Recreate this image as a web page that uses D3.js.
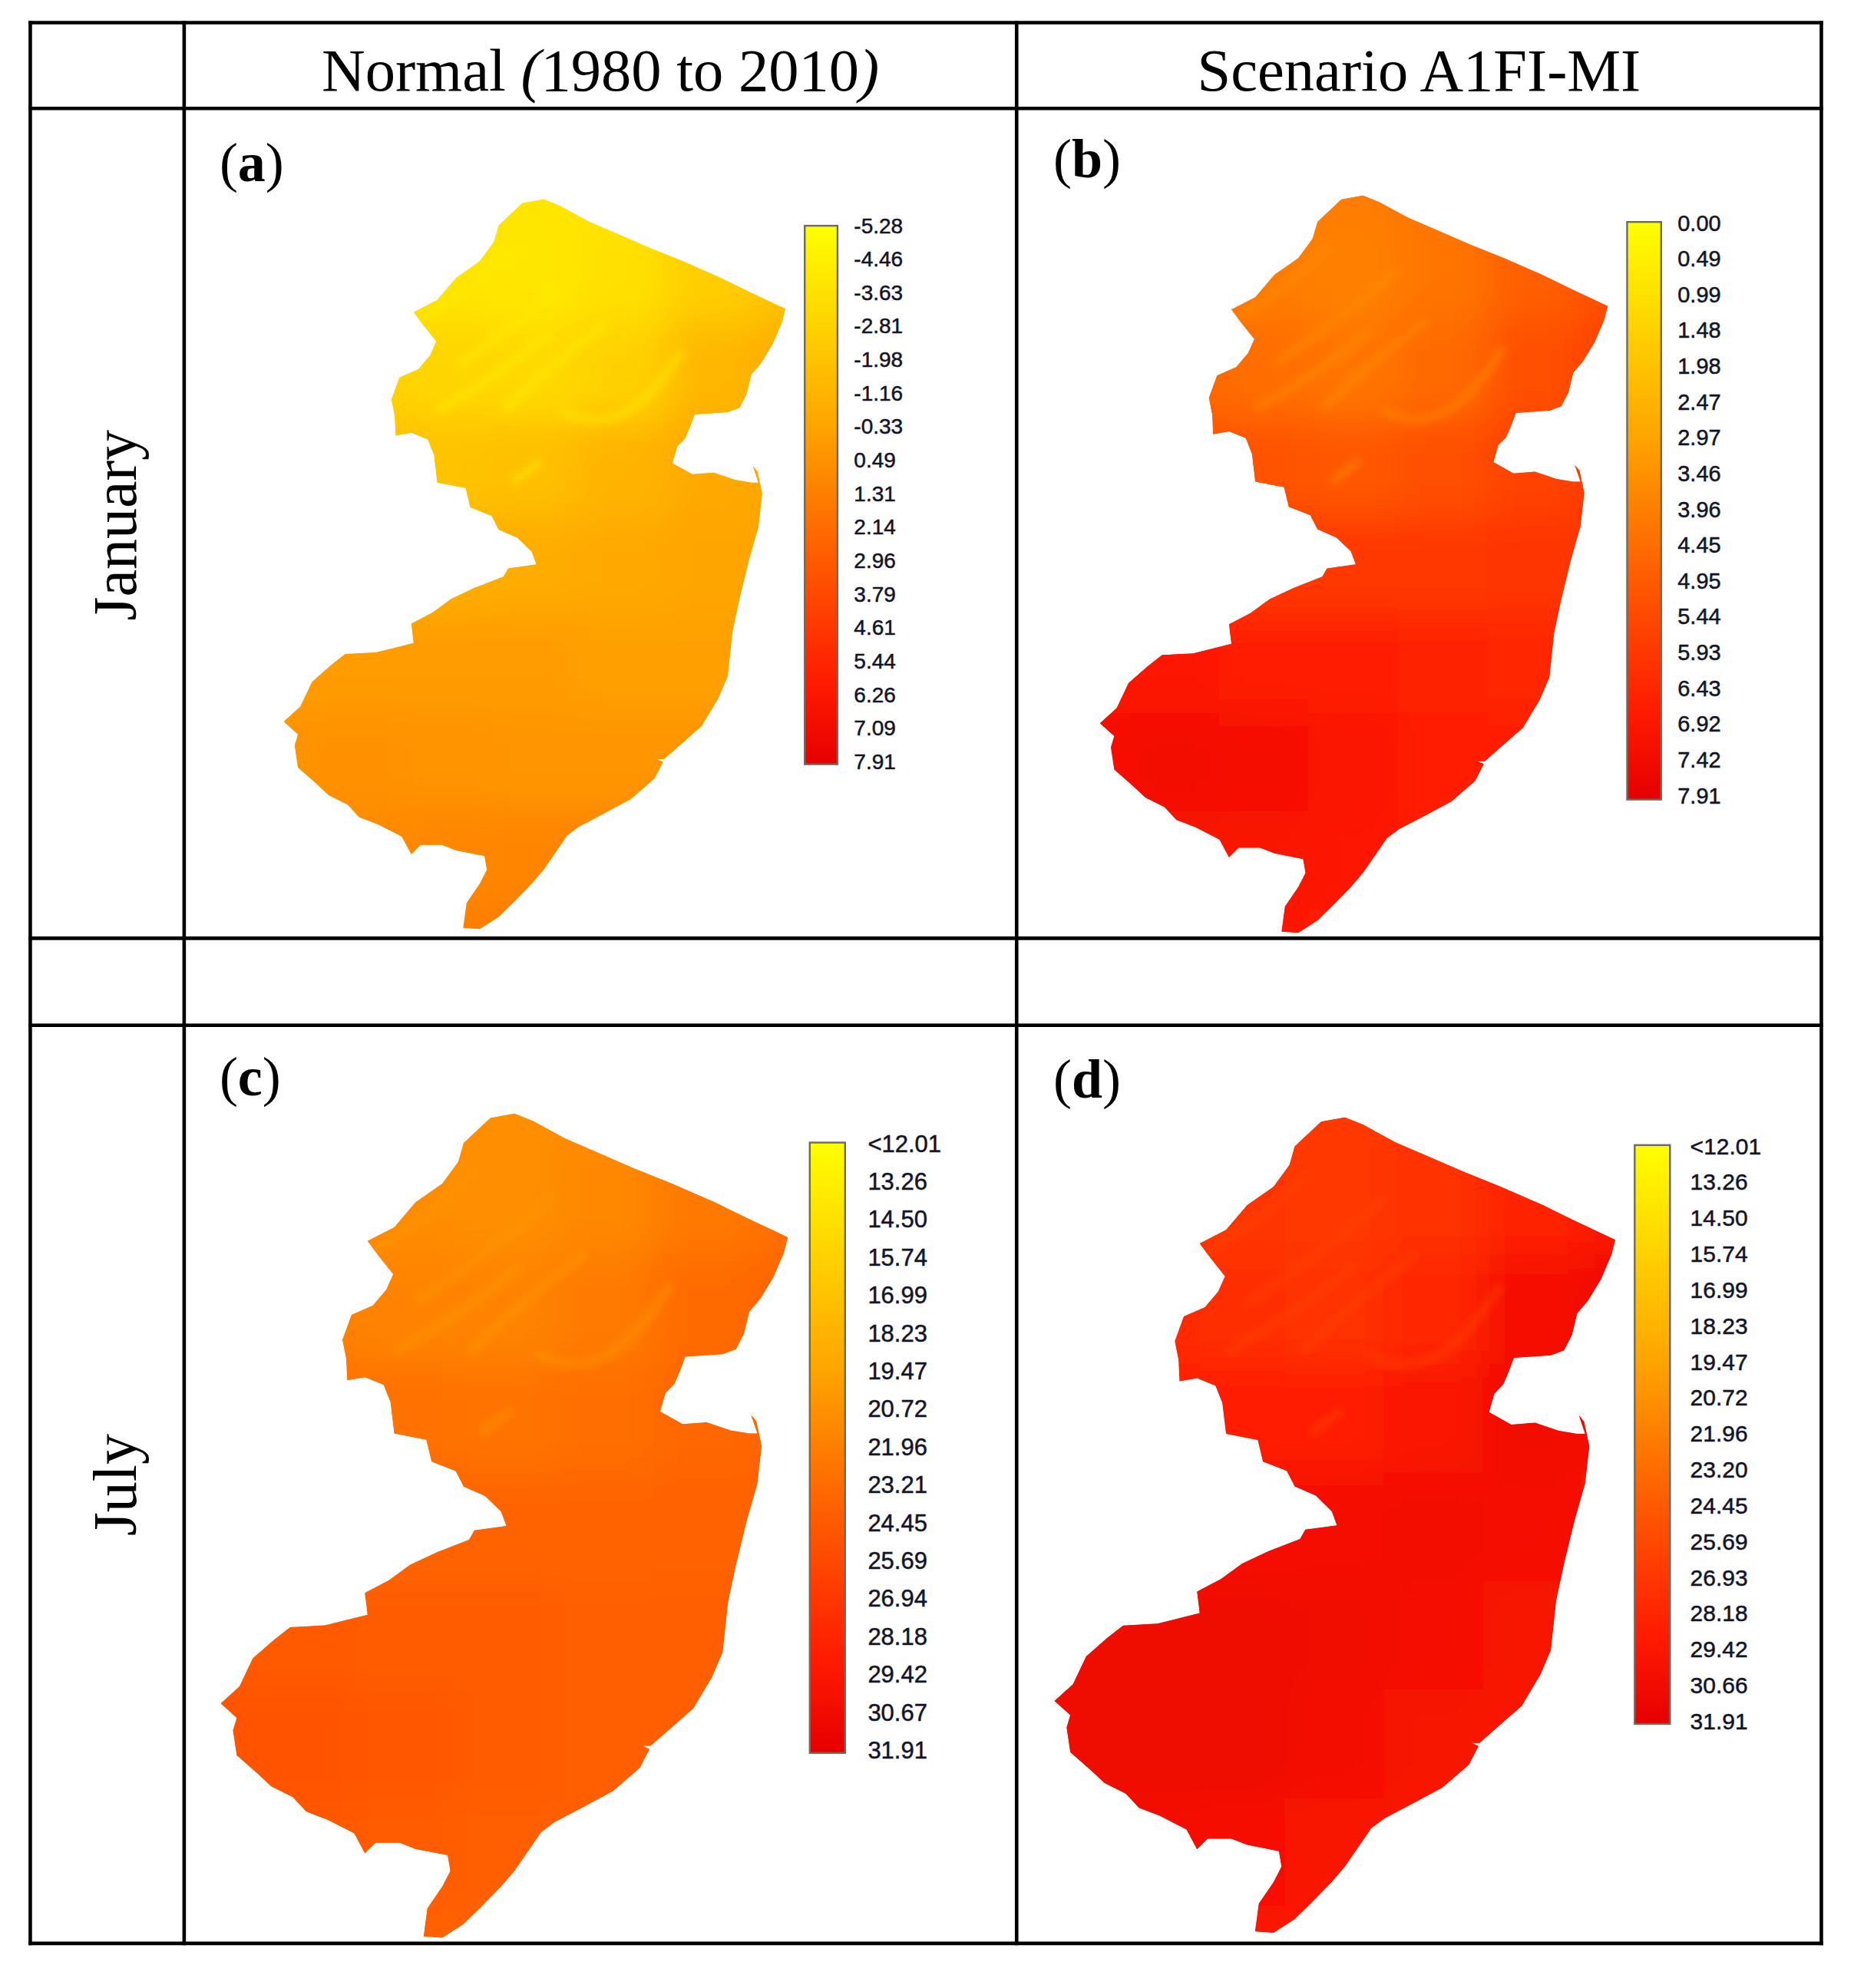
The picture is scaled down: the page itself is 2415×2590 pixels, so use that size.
<!DOCTYPE html>
<html><head><meta charset="utf-8">
<script src="https://cdnjs.cloudflare.com/ajax/libs/d3/7.8.5/d3.min.js"></script>
<style>html,body{margin:0;padding:0;background:#fff}svg{display:block}</style>
</head><body>
<svg id="chart" width="2415" height="2590"></svg>
<script>
// ---------- data ----------
const columnHeaders = ["Normal (1980 to 2010)", "Scenario A1FI-MI"];
const rowHeaders = ["January", "July"];
const panelLetters = ["a", "b", "c", "d"];

const ticksA = ["-5.28","-4.46","-3.63","-2.81","-1.98","-1.16","-0.33","0.49","1.31","2.14","2.96","3.79","4.61","5.44","6.26","7.09","7.91"];
const ticksB = ["0.00","0.49","0.99","1.48","1.98","2.47","2.97","3.46","3.96","4.45","4.95","5.44","5.93","6.43","6.92","7.42","7.91"];
const ticksC = ["<12.01","13.26","14.50","15.74","16.99","18.23","19.47","20.72","21.96","23.21","24.45","25.69","26.94","28.18","29.42","30.67","31.91"];
const ticksD = ["<12.01","13.26","14.50","15.74","16.99","18.23","19.47","20.72","21.96","23.20","24.45","25.69","26.93","28.18","29.42","30.66","31.91"];

// state outline, in map units
const outline = [[625,178],[660,190],[720,218],[780,240],[850,266],[920,290],[1000,320],[1060,345],[1137,376],[1130,400],[1110,440],[1085,475],[1065,495],[1055,530],[1040,555],[1015,563],[945,567],[935,590],[925,610],[908,625],[898,655],[940,675],[985,672],[1030,685],[1065,690],[1080,690],[1068,660],[1078,670],[1088,710],[1080,770],[1060,830],[1040,900],[1025,960],[1015,1040],[995,1080],[960,1130],[920,1160],[880,1190],[865,1190],[878,1195],[860,1225],[810,1262],[760,1285],[700,1312],[675,1328],[625,1390],[600,1415],[560,1450],[530,1475],[490,1497],[455,1495],[462,1450],[490,1415],[505,1390],[500,1365],[440,1355],[410,1345],[365,1345],[345,1362],[325,1330],[275,1308],[250,1300],[235,1295],[210,1272],[170,1255],[145,1235],[105,1205],[98,1165],[105,1145],[75,1122],[110,1095],[135,1050],[175,1020],[205,1000],[270,997],[350,980],[345,945],[390,925],[430,900],[480,880],[540,860],[550,845],[610,838],[600,815],[570,790],[530,775],[515,750],[470,735],[460,700],[400,690],[393,640],[380,612],[345,600],[312,605],[310,570],[303,540],[320,500],[360,485],[385,460],[398,435],[370,405],[350,382],[400,360],[440,320],[490,290],[520,255],[530,225],[580,185]];

// ridge streaks in the north of the state, in map units
const ridges = [
  [[365,395],[470,340],[560,265]],
  [[440,480],[560,410],[700,310]],
  [[400,560],[520,500],[640,420]],
  [[540,560],[640,480],[760,400]],
  [[660,560],[740,590],[840,550],[920,450]],
  [[560,690],[620,650]]
];

// temperature (deg C) estimated on a coarse grid, north to south, west to east
const tempA = [
 [-3.8,-3.8,-3.8,-3.9,-3.8,-3.2,-2.6],
 [-3.5,-3.5,-3.8,-4.0,-3.6,-2.6,-2.0],
 [-2.8,-2.8,-3.0,-3.2,-2.8,-1.4,-0.7],
 [-1.8,-1.8,-2.0,-1.8,-1.2,-0.6,-0.4],
 [-0.8,-0.8,-0.9,-0.8,-0.6,-0.4,-0.3],
 [0.0,0.0,0.0,0.0,-0.2,-0.2,-0.2],
 [0.4,0.5,0.4,0.3,0.3,0.3,0.3],
 [0.8,0.8,0.9,1.0,1.0,1.0,1.0],
 [1.3,1.3,1.4,1.4,1.3,1.2,1.2]];
const tempB = [
 [4.2,4.2,4.1,4.0,4.2,4.6,4.9],
 [4.2,4.2,4.0,3.9,4.2,4.8,5.2],
 [4.6,4.6,4.4,4.2,4.5,5.2,5.6],
 [5.2,5.2,5.1,5.0,5.2,5.6,5.8],
 [5.9,5.9,5.9,5.9,5.9,6.0,6.1],
 [6.8,6.8,6.7,6.6,6.5,6.4,6.4],
 [7.2,7.3,7.2,6.9,6.7,6.6,6.5],
 [7.1,7.1,7.0,6.8,6.6,6.5,6.4],
 [6.9,6.9,6.8,6.7,6.5,6.4,6.3]];
const tempC = [
 [21.0,21.0,20.9,20.8,21.0,21.6,22.2],
 [21.2,21.2,21.0,20.8,21.3,22.3,23.0],
 [21.8,21.8,21.6,21.6,22.2,23.2,23.6],
 [22.8,22.8,22.8,22.7,23.0,23.5,23.7],
 [23.7,23.7,23.7,23.7,23.7,23.8,23.8],
 [24.4,24.4,24.3,24.2,24.1,24.0,24.0],
 [24.9,24.9,24.6,24.3,24.1,24.0,23.9],
 [24.5,24.5,24.3,24.1,24.0,23.8,23.8],
 [23.8,23.8,23.8,23.8,23.7,23.7,23.7]];
const tempD = [
 [27.0,27.0,26.9,26.8,27.0,27.8,28.4],
 [27.4,27.4,27.0,26.8,27.2,28.5,29.5],
 [27.9,27.9,27.4,27.2,28.0,30.0,30.8],
 [28.8,28.8,28.6,28.6,29.5,30.6,30.4],
 [30.0,30.0,30.0,30.2,30.4,30.2,29.8],
 [30.8,30.8,30.8,30.6,30.2,29.8,29.6],
 [31.0,31.0,31.0,30.4,29.9,29.6,29.4],
 [30.2,30.2,30.0,29.6,29.4,29.3,29.3],
 [29.4,29.4,29.4,29.3,29.3,29.2,29.2]];
const ridgeTemp = [-4.3, 3.5, 20.2, 26.2];

// colour ramp of the legends, top to bottom
const rampStops = [0, 0.37, 0.6, 0.85, 1];
const rampColors = ["#ffff00", "#ffa500", "#ff6000", "#ff1a00", "#e60000"];

// ---------- layout ----------
const k = 1.643;                       // layout below measured at 1/k scale
const ruleX = [24, 146, 806, 1444].map(d => d * k);
const ruleY = [18, 86, 744, 813, 1541].map(d => d * k);
const panelLayout = [
 {id:"a", temp:tempA, ticks:ticksA, ridge:ridgeTemp[0], map:[225,623,158,738], bar:[638,664,179,606], lab:[677,179,604], fs:28, tag:[174,130]},
 {id:"b", temp:tempB, ticks:ticksB, ridge:ridgeTemp[1], map:[872,1275,155,741], bar:[1290,1317,176,634], lab:[1330,177,631], fs:29, tag:[835,127]},
 {id:"c", temp:tempC, ticks:ticksC, ridge:ridgeTemp[2], map:[175,625,883,1538], bar:[642,670,906,1390], lab:[688,907,1388], fs:31, tag:[174,855]},
 {id:"d", temp:tempD, ticks:ticksD, ridge:ridgeTemp[3], map:[836,1281,886,1534], bar:[1296,1324,908,1367], lab:[1340,909,1365], fs:30, tag:[835,857]}
];

const svg = d3.select("#chart");
const defs = svg.append("defs");
const blur = (id, s) => defs.append("filter").attr("id", id)
  .attr("filterUnits","userSpaceOnUse").attr("x",0).attr("y",0).attr("width",2415).attr("height",2590)
  .append("feGaussianBlur").attr("stdDeviation", s);
blur("smooth", 26);
blur("soft", 5);

const grad = defs.append("linearGradient").attr("id","ramp").attr("x1",0).attr("x2",0).attr("y1",0).attr("y2",1);
rampStops.forEach((s,i) => grad.append("stop").attr("offset",s).attr("stop-color",rampColors[i]));

const numeric = t => +String(t).replace("<","");
const gridCols = d3.range(7), gridRows = d3.range(9);

panelLayout.forEach(p => {
  const [mx0,mx1,my0,my1] = p.map.map(d => d * k);
  const x = d3.scaleLinear().domain([75,1138]).range([mx0,mx1]);
  const y = d3.scaleLinear().domain([178,1500]).range([my0,my1]);
  const tVal = d3.scaleLinear().domain([numeric(p.ticks[0]), numeric(p.ticks[16])]).range([0,1]);
  const ramp = d3.scaleLinear().domain(rampStops).range(rampColors).interpolate(d3.interpolateRgb);
  const color = v => ramp(tVal(v));
  const gx = d3.scaleBand().domain(gridCols).range([x(-50),x(1260)]);
  const gy = d3.scaleBand().domain(gridRows).range([y(50),y(1630)]);
  const line = d3.line().x(d => x(d[0])).y(d => y(d[1]));

  defs.append("clipPath").attr("id","clip-"+p.id).append("path").attr("d", line(outline)+"Z");

  const g = svg.append("g").attr("clip-path",`url(#clip-${p.id})`);
  // flat base so the clipped edge is never pale
  g.append("path").attr("d", line(outline)+"Z").attr("fill", color(p.temp[4][3]));
  g.append("g").attr("filter","url(#smooth)")
    .selectAll("rect").data(p.temp.flatMap((r,i) => r.map((v,j) => ({i,j,v})))).join("rect")
    .attr("x", d => gx(d.j)).attr("y", d => gy(d.i))
    .attr("width", gx.bandwidth()+1).attr("height", gy.bandwidth()+1)
    .attr("fill", d => color(d.v));
  g.append("g").attr("filter","url(#soft)")
    .selectAll("path").data(ridges).join("path")
    .attr("d", d3.line().curve(d3.curveBasis).x(d => x(d[0])).y(d => y(d[1])))
    .attr("fill","none").attr("stroke", color(p.ridge)).attr("stroke-width",13).attr("stroke-opacity",.42);

  // legend
  const [bx0,bx1,by0,by1] = p.bar.map(d => d * k);
  svg.append("rect").attr("x",bx0).attr("y",by0).attr("width",bx1-bx0).attr("height",by1-by0)
    .attr("fill","url(#ramp)").attr("stroke","#6d6a60").attr("stroke-width",2.4);
  const lab = d3.scalePoint().domain(p.ticks).range([p.lab[1]*k, p.lab[2]*k]);
  const ax = svg.append("g").attr("transform",`translate(${p.lab[0]*k},0)`)
    .call(d3.axisRight(lab).tickSize(0).tickPadding(0));
  ax.select(".domain").remove();
  ax.selectAll("text").attr("font-family","'Liberation Sans',Arial,sans-serif")
    .attr("font-size",p.fs).attr("fill","#141428").attr("stroke","#141428").attr("stroke-width",.5);

  // panel tag
  const tag = svg.append("text").attr("x",p.tag[0]*k).attr("y",p.tag[1]*k+22)
    .attr("font-family","'Liberation Serif',serif").attr("font-size",72).attr("fill","#000");
  tag.append("tspan").text("(");
  tag.append("tspan").attr("font-weight","bold").text(p.id);
  tag.append("tspan").text(")");
});

// table rules
const rules = svg.append("g").attr("stroke","#000").attr("stroke-width",4.6).attr("stroke-linecap","square");
rules.selectAll("line.v").data(ruleX).join(enter => enter.append("line").attr("class","v"))
  .attr("x1",d=>d).attr("x2",d=>d).attr("y1",ruleY[0]).attr("y2",ruleY[4]);
rules.selectAll("line.h").data(ruleY).join(enter => enter.append("line").attr("class","h"))
  .attr("y1",d=>d).attr("y2",d=>d).attr("x1",ruleX[0]).attr("x2",ruleX[3]);

// headers
const serif = "'Liberation Serif',serif";
const h1 = svg.append("text").attr("x",(255+697)/2*k).attr("y",72*k)
  .attr("text-anchor","middle").attr("font-family",serif).attr("font-size",78.5);
h1.append("tspan").text("Normal ");
h1.append("tspan").attr("font-style","italic").text("(");
h1.append("tspan").text("1980 to 2010");
h1.append("tspan").attr("font-style","italic").text(")");
svg.append("text").attr("x",(948+1302)/2*k).attr("y",72*k)
  .attr("text-anchor","middle").attr("font-family",serif).attr("font-size",78.5).text(columnHeaders[1]);

[[rowHeaders[0],(338+495)/2],[rowHeaders[1],(1137+1218)/2]].forEach(([t,c]) => {
  svg.append("text").attr("transform",`translate(${108*k},${c*k}) rotate(-90)`)
    .attr("text-anchor","middle").attr("font-family",serif).attr("font-size",80).text(t);
});
</script>
</body></html>
